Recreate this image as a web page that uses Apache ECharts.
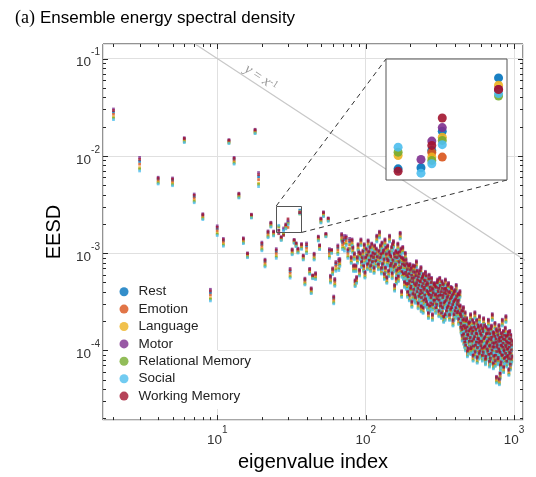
<!DOCTYPE html>
<html>
<head>
<meta charset="utf-8">
<script src="https://cdn.jsdelivr.net/npm/echarts@6/dist/echarts.min.js"></script>
<style>
  html, body { margin: 0; padding: 0; background: #fff; }
  #chart { width: 536px; height: 477px; }
</style>
</head>
<body>
<div id="chart"></div>
<script>
const seriesNames = ["Rest", "Emotion", "Language", "Motor", "Relational Memory", "Social", "Working Memory"];
const colors = ["#0072BD", "#D95319", "#EDB120", "#7E2F8E", "#77AC30", "#4DBEEE", "#A2142F"];
// where each task sits inside a column of dots (fraction of the column height, top = +0.5)
const stackPos = [0.2, 0.0, -0.25, 0.5, -0.35, -0.5, 0.35];

// low-index eigenvalues: [index, centre EESD, column height in decades]
const sparse = [
  [2, 0.0267, 0.11], [3, 0.0082, 0.14], [4, 0.00556, 0.07], [5, 0.0054, 0.08], [6, 0.0145, 0.05],
  [7, 0.00365, 0.09], [8, 0.00237, 0.06], [9, 0.00037, 0.12], [10, 0.0017, 0.10], [11, 0.00129, 0.08],
  [12, 0.0140, 0.04], [13, 0.0089, 0.07], [14, 0.0039, 0.05], [15, 0.00134, 0.06], [16, 0.00095, 0.05],
  [17, 0.0024, 0.04], [18, 0.0178, 0.045], [19, 0.0057, 0.145], [20, 0.00117, 0.09], [21, 0.00079, 0.08],
  [22, 0.00156, 0.07], [23, 0.00196, 0.05], [24, 0.00159, 0.05], [25, 0.00099, 0.10], [27, 0.00141, 0.04],
  [31, 0.00062, 0.10], [32, 0.00103, 0.06], [33, 0.00132, 0.04], [34, 0.00122, 0.04], [35, 0.00106, 0.05],
  [37, 0.00117, 0.06], [38, 0.0009, 0.05], [39, 0.00051, 0.07], [40, 0.00112, 0.11], [42, 0.00065, 0.06],
  [43, 0.00041, 0.06], [44, 0.00057, 0.04], [45, 0.00092, 0.07], [46, 0.00058, 0.07], [48, 0.00141, 0.05],
  [49, 0.00115, 0.05], [50, 0.00216, 0.05], [52, 0.00251, 0.05], [54, 0.00153, 0.035], [56, 0.00221, 0.035],
  [57, 0.00099, 0.10], [58, 0.00054, 0.08], [59, 0.00104, 0.04], [60, 0.00065, 0.07], [61, 0.00033, 0.08],
  [62, 0.0005, 0.08], [63, 0.00073, 0.10], [65, 0.00108, 0.10], [66, 0.00076, 0.12], [67, 0.0008, 0.08],
  [69, 0.00145, 0.08], [70, 0.00122, 0.10], [72, 0.00126, 0.16], [74, 0.00134, 0.10], [76, 0.00099, 0.10],
  [78, 0.00122, 0.13]
];

// columns shown in the zoom inset, one value per task (same order as seriesNames)
const detailIdx = [26, 28, 29, 30, 36];
const detailVals = [
  [0.001727, 0.00158, 0.001851, 0.0016, 0.001883, 0.001932, 0.001706],
  [0.001737, 0.00158, 0.0016, 0.001813, 0.00156, 0.001689, 0.00152],
  [0.0019, 0.00188, 0.001835, 0.001994, 0.001804, 0.001773, 0.00195],
  [0.002097, 0.001835, 0.002035, 0.002138, 0.002001, 0.001957, 0.002247],
  [0.002766, 0.0026, 0.002662, 0.002606, 0.002518, 0.00255, 0.002604]
];

// dense part of the spectrum: [index, centre EESD]
const cloudA = [
  [80, 0.00085], [81, 0.00129], [82, 0.00108], [83, 0.0007], [84, 0.00093], [85, 0.00049], [86, 0.0007],
  [87, 0.00053], [88, 0.00085], [89, 0.00115], [90, 0.00097], [91, 0.00063], [92, 0.00093], [93, 0.00129],
  [94, 0.00077], [95, 0.00085], [96, 0.00099], [97, 0.0007], [98, 0.00115], [99, 0.0006], [100, 0.00085],
  [101, 0.00104], [102, 0.0009], [103, 0.00073], [104, 0.00126], [105, 0.00097], [106, 0.0008], [107, 0.00108],
  [108, 0.0007], [109, 0.00088], [110, 0.00117], [111, 0.00077], [112, 0.00095], [113, 0.00085], [114, 0.00067],
  [115, 0.00112], [116, 0.00093], [117, 0.00079], [118, 0.00104], [119, 0.00141], [120, 0.00087], [122, 0.00073],
  [123, 0.00099], [124, 0.00155], [125, 0.00085]
];
const cloudB = [
  [126, 0.00112], [127, 0.00093], [128, 0.00066], [129, 0.0012], [130, 0.00073], [131, 0.00095], [132, 0.00101],
  [133, 0.00082], [134, 0.00058], [135, 0.00129], [136, 0.00067], [137, 0.00108], [138, 0.00093], [139, 0.00053],
  [140, 0.00082], [141, 0.00112], [142, 0.00079], [143, 0.00062], [144, 0.00097], [145, 0.00141], [146, 0.00091],
  [147, 0.0007], [148, 0.00087], [149, 0.00074], [150, 0.00108], [151, 0.00059], [152, 0.00116], [153, 0.0008],
  [154, 0.00124], [155, 0.00069], [156, 0.00093], [157, 0.00044], [158, 0.00086], [159, 0.00073], [160, 0.00099],
  [161, 0.00052], [162, 0.00063], [163, 0.00085], [164, 0.00095], [165, 0.00117], [166, 0.00055], [167, 0.00066],
  [168, 0.00077], [169, 0.00097], [170, 0.00088], [171, 0.00151], [172, 0.00067], [173, 0.00104], [174, 0.00085],
  [175, 0.00038], [176, 0.00061], [177, 0.00073], [178, 0.00108], [179, 0.00083], [180, 0.00058], [181, 0.0008],
  [182, 0.00072], [183, 0.00048], [184, 0.0007], [185, 0.00094]
];
const cloudC = [
  [186, 0.0006], [187, 0.00081], [188, 0.00046], [189, 0.00056], [190, 0.00073], [191, 0.00064], [192, 0.00038],
  [193, 0.00054], [194, 0.00046], [195, 0.0007], [196, 0.00058], [197, 0.00035], [198, 0.00049], [199, 0.00072],
  [200, 0.00063], [201, 0.00041], [202, 0.00043], [203, 0.00066], [204, 0.00056], [205, 0.0003], [206, 0.00052],
  [207, 0.00048], [208, 0.00036], [209, 0.0007], [210, 0.00061], [211, 0.0004], [212, 0.00053], [213, 0.00046],
  [214, 0.00035], [215, 0.00069], [216, 0.0006], [217, 0.00033], [218, 0.00044], [219, 0.00055], [220, 0.00077],
  [221, 0.00047], [222, 0.00038], [223, 0.00062], [224, 0.0005], [225, 0.00041], [226, 0.00029], [227, 0.00054],
  [228, 0.00044], [229, 0.00034], [230, 0.00058], [231, 0.00049], [232, 0.00036], [233, 0.00062], [234, 0.00048],
  [235, 0.00039], [236, 0.00067], [237, 0.00027], [238, 0.00033], [239, 0.00052], [240, 0.00043], [241, 0.00037],
  [242, 0.00054], [243, 0.00046], [244, 0.00026], [245, 0.00057], [246, 0.0004], [247, 0.00031], [248, 0.0005],
  [249, 0.00042], [250, 0.00035], [252, 0.00049], [253, 0.0006], [254, 0.00032], [255, 0.00044], [256, 0.00055],
  [257, 0.0003], [258, 0.00039], [260, 0.00047], [261, 0.00028], [262, 0.00038], [263, 0.00045], [265, 0.00023],
  [266, 0.00036], [267, 0.00051], [268, 0.00056], [270, 0.00035], [271, 0.00027], [272, 0.00042], [273, 0.00039],
  [275, 0.00029], [276, 0.00033], [277, 0.00047], [278, 0.00052], [280, 0.00035], [281, 0.00041], [282, 0.00022],
  [283, 0.00028], [285, 0.0004], [286, 0.00037], [288, 0.00031], [289, 0.00045]
];
const cloudD = [
  [291, 0.00046], [292, 0.00031], [294, 0.00035], [295, 0.00043], [297, 0.00026], [298, 0.00036], [300, 0.00042],
  [301, 0.00028], [303, 0.00032], [304, 0.00047], [306, 0.0005], [307, 0.00034], [309, 0.00038], [310, 0.00041],
  [312, 0.00024], [313, 0.00031], [315, 0.00035], [316, 0.00052], [318, 0.00044], [319, 0.00027], [321, 0.00029],
  [322, 0.00035], [324, 0.00038], [325, 0.00023], [327, 0.00048], [328, 0.00041], [330, 0.00026], [331, 0.00033],
  [333, 0.00035], [334, 0.00045], [336, 0.00021], [337, 0.00029], [339, 0.0004], [340, 0.00037], [342, 0.0003],
  [343, 0.00022], [345, 0.0005], [346, 0.00041], [348, 0.00036], [349, 0.00031], [351, 0.00024], [352, 0.00039],
  [354, 0.00033], [355, 0.00026], [357, 0.00044], [358, 0.00034], [360, 0.00027], [362, 0.00046], [364, 0.00038],
  [366, 0.00029], [368, 0.00022], [370, 0.00037], [372, 0.00032], [374, 0.00025], [376, 0.00042], [378, 0.00033],
  [380, 0.00026], [382, 0.00041], [384, 0.00035], [386, 0.00028], [388, 0.000193], [390, 0.00036], [392, 0.0003],
  [394, 0.00022], [396, 0.00038], [398, 0.00031], [400, 0.00024], [402, 0.00039], [404, 0.00032], [406, 0.00026],
  [408, 0.00044], [410, 0.00034], [412, 0.00023], [414, 0.00028], [416, 0.0003], [418, 0.00024], [420, 0.00036],
  [422, 0.00031], [424, 0.0002], [426, 0.00035], [428, 0.00027], [430, 0.00023]
];
const cloudE = [
  [432, 0.00038], [434, 0.00027], [436, 0.00022], [438, 0.00018], [440, 0.000163], [442, 0.00021], [444, 0.00024],
  [446, 0.000155], [448, 0.000135], [450, 0.00024], [452, 0.000193], [454, 0.000168], [456, 0.00026], [458, 0.00014],
  [460, 0.000124], [462, 0.0002], [464, 0.00017], [466, 0.000115], [468, 0.00023], [470, 0.00016], [472, 0.000107],
  [474, 0.00019], [476, 0.000148], [478, 0.000125], [480, 0.0002], [482, 0.000165], [485, 0.000093], [487, 0.000138],
  [490, 0.000135], [492, 0.0001], [495, 0.000179], [497, 0.00015], [500, 0.000117], [502, 0.000185], [505, 0.000157],
  [507, 0.000128], [510, 0.00022], [512, 0.000098], [515, 0.000102], [517, 0.000162], [520, 0.000141], [522, 0.000118],
  [525, 0.000193], [527, 0.00015], [530, 0.000084], [532, 0.000105], [535, 0.000124], [537, 0.00018], [540, 0.000163],
  [542, 0.000131], [545, 0.00023], [547, 0.000092], [550, 0.000107], [552, 0.000155], [555, 0.000141], [557, 0.000115],
  [560, 0.000193], [562, 0.00014], [565, 0.00008], [567, 0.000101], [570, 0.000124], [572, 0.000172], [575, 0.000163],
  [577, 0.000125], [580, 0.000112], [582, 0.000088], [585, 0.00021], [587, 0.00015], [590, 0.000093], [592, 0.000118],
  [595, 0.000141], [597, 0.000105]
];
const cloudF = [
  [600, 0.00017], [603, 0.000135], [606, 0.000117], [609, 0.0001], [612, 0.000084], [615, 0.000158], [618, 0.000148],
  [621, 0.00009], [624, 0.0002], [627, 0.000125], [630, 0.000102], [633, 0.000172], [636, 0.000129], [639, 0.000105],
  [642, 0.000077], [645, 0.000082], [648, 0.000163], [651, 0.00014], [654, 0.000112], [657, 0.000098], [660, 0.000141],
  [663, 0.000118], [666, 0.000093], [669, 0.000155], [672, 0.000193], [675, 0.000086], [678, 0.000124], [681, 0.000105],
  [684, 0.000073], [687, 0.00014], [690, 0.000107], [693, 0.000078], [696, 0.000157], [699, 0.000122], [702, 0.000088],
  [705, 0.000168], [708, 0.000129], [711, 0.000095], [714, 0.00022], [717, 0.000113], [720, 0.000102], [723, 0.000145],
  [726, 0.00007], [729, 0.000083], [732, 0.000141], [735, 0.000102], [738, 0.000112], [741, 0.000132], [744, 0.000179],
  [747, 0.000074], [750, 0.000084], [753, 0.000115], [756, 0.000124], [759, 0.000155], [762, 0.00005], [765, 0.000092],
  [768, 0.000102], [771, 0.000108], [774, 0.000148], [777, 0.000135], [780, 0.000077], [783, 0.00008], [786, 0.000117],
  [789, 0.000098], [792, 0.00017], [795, 0.000125], [797, 0.000048], [798, 0.000093], [801, 0.000152], [804, 0.000129],
  [806, 0.000055], [807, 0.00009], [810, 0.000067], [813, 0.000118], [816, 0.000107], [819, 0.000072], [822, 0.000141],
  [825, 0.000105], [828, 0.000084], [831, 0.00013], [834, 0.000193], [837, 0.000085], [840, 0.000102], [843, 0.000112],
  [846, 0.000124], [849, 0.000148], [852, 0.000064], [855, 0.000096], [858, 0.000093], [861, 0.000078], [864, 0.000135],
  [867, 0.000122], [870, 0.00008], [873, 0.00016], [876, 0.000107], [879, 0.000088], [882, 0.00021], [885, 0.000103],
  [888, 0.000117], [891, 0.000132], [894, 0.000073], [897, 0.000082], [900, 0.000097], [903, 0.000115], [906, 0.000135],
  [909, 0.000098], [912, 0.000084], [915, 0.000145], [918, 0.000112], [921, 0.000078], [924, 0.00006], [927, 0.000125],
  [930, 0.000102], [933, 0.00009], [936, 0.000148], [939, 0.000112], [942, 0.000088], [945, 0.000068], [948, 0.000124],
  [951, 0.000135], [954, 0.000077], [957, 0.000095], [960, 0.000107], [963, 0.000118], [966, 0.000082]
];
const cloud = [].concat(cloudA, cloudB, cloudC, cloudD, cloudE, cloudF);
const cloudSpan = 0.07;

// y = 1/x reference line end points
const refLine = [[1, 1], [2000, 0.0005]];

const xRange = [1.7, 1150];
const yRange = [1.92e-5, 0.141];
const insetX = [25, 37];
const insetY = [0.00163, 0.00305];
const mantissas = [2, 3, 4, 5, 6, 7, 8, 9];
const xDecades = [1, 10, 100, 1000];
const yDecades = [1e-5, 1e-4, 1e-3, 1e-2, 1e-1];

const chart = echarts.init(document.getElementById("chart"), null, { renderer: "canvas" });

function pointsFor(s) {
  const pts = [];
  sparse.forEach(([i, m, sp]) => pts.push([i, m * Math.pow(10, sp * stackPos[s])]));
  detailIdx.forEach((i, k) => pts.push([i, detailVals[k][s]]));
  cloud.forEach(([i, m]) => pts.push([i, m * Math.pow(10, cloudSpan * stackPos[s])]));
  return pts;
}

function tickValues(decades, range) {
  const out = [];
  decades.forEach((d) => {
    if (d >= range[0] && d <= range[1]) out.push([d, 1]);
    mantissas.forEach((m) => {
      const v = m * d;
      if (v >= range[0] && v <= range[1]) out.push([v, 0]);
    });
  });
  return out;
}

function powLabel(v) {
  const l = Math.log10(v);
  const e = Math.round(l);
  if (Math.abs(l - e) > 1e-6) return "";
  return "{z| }{b|10}{s|" + e + "}";
}

const labelRich = {
  z: { fontSize: 1, lineHeight: 22 },
  b: { fontSize: 13.5, fontFamily: "Liberation Sans", color: "#333", lineHeight: 14, verticalAlign: "bottom" },
  s: { fontSize: 10, fontFamily: "Liberation Sans", color: "#333", lineHeight: 9, verticalAlign: "top" }
};

const mainSeries = seriesNames.map((name, s) => ({
  name,
  type: "scatter",
  xAxisIndex: 0,
  yAxisIndex: 0,
  symbol: "rect",
  symbolSize: 2.7,
  itemStyle: { color: colors[s] },
  z: 3,
  data: pointsFor(s)
}));

const insetSeries = seriesNames.map((name, s) => ({
  name,
  type: "scatter",
  xAxisIndex: 1,
  yAxisIndex: 1,
  zlevel: 1,
  z: 3,
  symbol: "circle",
  symbolSize: 9,
  itemStyle: { color: colors[s], opacity: 0.9 },
  data: pointsFor(s).filter(([i, v]) => i >= insetX[0] && i <= insetX[1] && v >= insetY[0] && v <= insetY[1])
}));

chart.setOption({
  animation: false,
  backgroundColor: "#fff",
  title: {
    left: 10,
    top: 4,
    text: "{a|(a)} {b|Ensemble energy spectral density}",
    textStyle: {
      fontWeight: "normal",
      rich: {
        a: { fontFamily: "Liberation Serif", fontSize: 18, fontWeight: "normal", color: "#000" },
        b: { fontFamily: "Liberation Sans", fontSize: 17, fontWeight: "normal", color: "#000" }
      }
    }
  },
  legend: {
    data: seriesNames,
    orient: "vertical",
    left: 114.5,
    top: 278,
    icon: "circle",
    itemWidth: 19,
    itemHeight: 9,
    itemGap: 0,
    textStyle: { fontFamily: "Liberation Sans", fontSize: 13.5, color: "#222", lineHeight: 17.4 },
    z: 6
  },
  grid: [
    { left: 103, top: 44, width: 420, height: 379, show: true, borderColor: "#262626", borderWidth: 1, backgroundColor: "#fff" },
    { left: 386, top: 59, width: 121, height: 121, show: true, borderColor: "#555", borderWidth: 1, backgroundColor: "#fff", zlevel: 1 }
  ],
  xAxis: [
    {
      type: "log",
      logBase: 10,
      min: xRange[0],
      max: xRange[1],
      gridIndex: 0,
      name: "eigenvalue index",
      nameLocation: "middle",
      nameGap: 29,
      nameTextStyle: { fontFamily: "Liberation Sans", fontSize: 20, color: "#000" },
      axisLine: { show: false },
      axisTick: { show: false },
      splitLine: { show: true, lineStyle: { color: "#e0e0e0", width: 1 } },
      axisLabel: { margin: 5, formatter: powLabel, rich: labelRich }
    },
    { type: "log", logBase: 10, min: insetX[0], max: insetX[1], gridIndex: 1, show: false }
  ],
  yAxis: [
    {
      type: "log",
      logBase: 10,
      min: yRange[0],
      max: yRange[1],
      gridIndex: 0,
      name: "EESD",
      nameLocation: "middle",
      nameGap: 37,
      nameTextStyle: { fontFamily: "Liberation Sans", fontSize: 20, color: "#000" },
      axisLine: { show: false },
      axisTick: { show: false },
      splitLine: { show: true, lineStyle: { color: "#e0e0e0", width: 1 } },
      axisLabel: { margin: 3, formatter: powLabel, rich: labelRich }
    },
    { type: "log", logBase: 10, min: insetY[0], max: insetY[1], gridIndex: 1, show: false }
  ],
  series: [
    {
      type: "line",
      xAxisIndex: 0,
      yAxisIndex: 0,
      data: refLine,
      showSymbol: false,
      silent: true,
      clip: true,
      z: 2,
      lineStyle: { color: "#c8c8c8", width: 1.2 }
    }
  ].concat(mainSeries, insetSeries)
});

// ticks on all four sides, zoom box, connectors, line label and legend backdrop
const px = (v) => chart.convertToPixel({ gridIndex: 0 }, v);
const gTop = px([10, yRange[1]])[1];
const gBottom = px([10, yRange[0]])[1];
const gLeft = px([xRange[0], 1e-3])[0];
const gRight = px([xRange[1], 1e-3])[0];
const tickStyle = { stroke: "#262626", lineWidth: 1 };
const ticks = [];
tickValues(xDecades, xRange).forEach(([v, major]) => {
  const x = Math.round(px([v, 1e-3])[0]) + 0.5;
  const len = major ? 5 : 3;
  ticks.push({ type: "line", z: 10, silent: true, shape: { x1: x, y1: gBottom, x2: x, y2: gBottom - len }, style: tickStyle });
  ticks.push({ type: "line", z: 10, silent: true, shape: { x1: x, y1: gTop, x2: x, y2: gTop + len }, style: tickStyle });
});
tickValues(yDecades, yRange).forEach(([v, major]) => {
  const y = Math.round(px([10, v])[1]) + 0.5;
  const len = major ? 5 : 3;
  ticks.push({ type: "line", z: 10, silent: true, shape: { x1: gLeft, y1: y, x2: gLeft + len, y2: y }, style: tickStyle });
  ticks.push({ type: "line", z: 10, silent: true, shape: { x1: gRight, y1: y, x2: gRight - len, y2: y }, style: tickStyle });
});

const a = px([insetX[0], insetY[1]]);
const b = px([insetX[1], insetY[0]]);
const c = chart.convertToPixel({ gridIndex: 1 }, [insetX[0], insetY[1]]);
const d = chart.convertToPixel({ gridIndex: 1 }, [insetX[1], insetY[0]]);
const lp = px([20, 0.05]);
const dash = { stroke: "#333", lineWidth: 1, lineDash: [5, 4] };

chart.setOption({
  graphic: [
    { type: "rect", z: 1, silent: true, shape: { x: 104, y: 350, width: 114, height: 59 }, style: { fill: "#fff" } },
    {
      type: "rect", z: 10, silent: true,
      shape: { x: Math.round(a[0]) + 0.5, y: Math.round(a[1]) + 0.5, width: Math.round(b[0] - a[0]), height: Math.round(b[1] - a[1]) },
      style: { fill: null, stroke: "#555", lineWidth: 1 }
    },
    { type: "line", z: 10, silent: true, shape: { x1: a[0], y1: a[1], x2: c[0], y2: c[1] }, style: dash },
    { type: "line", z: 10, silent: true, shape: { x1: b[0], y1: b[1], x2: d[0], y2: d[1] }, style: dash },
    {
      type: "text", z: 10, silent: true,
      x: lp[0] - 1, y: lp[1] - 10, rotation: -33.5 * Math.PI / 180,
      style: {
        text: "{i|y} = {i|x}{s|-1}",
        align: "center",
        verticalAlign: "middle",
        fill: "#999",
        font: "14px 'Liberation Serif'",
        rich: {
          i: { fontFamily: "Liberation Serif", fontStyle: "italic", fontSize: 15, fill: "#999" },
          s: { fontFamily: "Liberation Serif", fontSize: 10, fill: "#999", verticalAlign: "top", lineHeight: 9 }
        }
      }
    }
  ].concat(ticks)
});
</script>
</body>
</html>
